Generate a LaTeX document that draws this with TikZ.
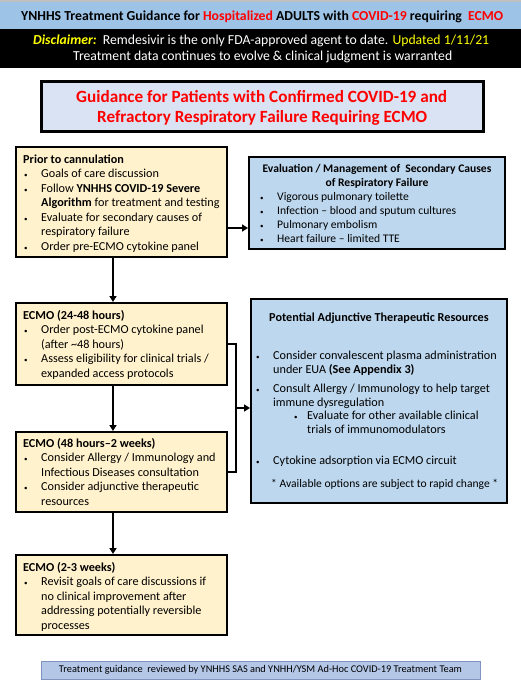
\documentclass[tikz,border=0pt]{standalone}
\usepackage{graphicx}
\usepackage{fontspec}
\setmainfont{Carlito}
\usetikzlibrary{arrows.meta}
\definecolor{bannerblue}{HTML}{9DC3E6}
\definecolor{titlefill}{HTML}{DAE3F3}
\definecolor{yelfill}{HTML}{FFF2CC}
\definecolor{bluefill}{HTML}{BDD7EE}
\definecolor{footfill}{HTML}{B4C7E7}
\definecolor{footedge}{HTML}{7F95BF}
\definecolor{redtxt}{HTML}{FF0000}
\definecolor{yeltxt}{HTML}{FFFF00}
\newcommand{\Bu}{\makebox[18pt][l]{\hspace{1pt}{\scriptsize\textbullet}}}
\newcommand{\Cn}{\hspace*{18pt}}
\newcommand{\ybody}{\fontsize{12.2}{14.5}\selectfont}
\newcommand{\ebody}{\fontsize{11.6}{14}\selectfont}
\newcommand{\abody}{\fontsize{12.2}{14}\selectfont}
\tikzset{
  yelbox/.style={draw=black, line width=2pt, fill=yelfill},
  bluebox/.style={draw=black, line width=2pt, fill=bluefill},
  txt/.style={anchor=base west, align=left, inner sep=0pt},
  ctxt/.style={anchor=base, align=center, inner sep=0pt},
  arr/.style={line width=2pt, -{Triangle[length=6pt,width=7pt]}},
  ln/.style={line width=2pt}
}
\begin{document}
\begin{tikzpicture}[x=1pt,y=-1pt]
\useasboundingbox (0,0) rectangle (521,680);
\fill[white] (0,0) rectangle (521,680);
% banner
\fill[bannerblue] (0,0) rectangle (521,29);
\fill[black!25] (0,0) rectangle (521,1.5);
\fill[black] (0,29) rectangle (521,68);
\node[anchor=base west, inner sep=0pt] (bannertitle) at (21,20.5)
  {\resizebox{482pt}{!}{\bfseries YNHHS Treatment Guidance for \textcolor{redtxt}{Hospitalized} ADULTS with \textcolor{redtxt}{COVID-19} requiring\ \ \textcolor{redtxt}{ECMO}}};
\node[anchor=base west, inner sep=0pt, text=white] (disc1) at (33,44.5)
  {\resizebox{456pt}{!}{\textcolor{yeltxt}{\bfseries\itshape Disclaimer:}\ \ Remdesivir is the only FDA-approved agent to date. \textcolor{yeltxt}{Updated 1/11/21}}};
\node[anchor=base west, inner sep=0pt, text=white] (disc2) at (73,60.5)
  {\resizebox{379pt}{!}{Treatment data continues to evolve \& clinical judgment is warranted}};
% title box
\draw[line width=3pt, fill=titlefill] (41,81) rectangle (483,131);
\node[anchor=base west, inner sep=0pt, text=redtxt] (maintitle1) at (76,102)
  {\resizebox{371pt}{!}{\bfseries Guidance for Patients with Confirmed COVID-19 and}};
\node[anchor=base west, inner sep=0pt, text=redtxt] (maintitle2) at (97,122)
  {\resizebox{330pt}{!}{\bfseries Refractory Respiratory Failure Requiring ECMO}};
% box 1
\node[yelbox, minimum width=211pt, minimum height=110pt, inner sep=0pt] (b1) at (121.5,202) {};
\node[txt, font=\ybody] (b1t) at (23,250) {\textbf{Prior to cannulation}\\
\Bu Goals of care discussion\\
\Bu Follow \textbf{YNHHS COVID-19 Severe}\\
\Cn\textbf{Algorithm} for treatment and testing\\
\Bu Evaluate for secondary causes of\\
\Cn respiratory failure\\
\Bu Order pre-ECMO cytokine panel};
% eval box
\node[bluebox, minimum width=256pt, minimum height=92pt, inner sep=0pt] (ev) at (377,203) {};
\node[ctxt, font=\ebody\bfseries] (evt) at (377,186) {Evaluation / Management of\ \ Secondary Causes\\of Respiratory Failure};
\node[txt, font=\ebody] (evb) at (259,242) {\Bu Vigorous pulmonary toilette\\
\Bu Infection -- blood and sputum cultures\\
\Bu Pulmonary embolism\\
\Bu Heart failure -- limited TTE};
% box 2
\node[yelbox, minimum width=211pt, minimum height=82pt, inner sep=0pt] (b2) at (121.5,344) {};
\node[txt, font=\ybody] (b2t) at (23,377) {\textbf{ECMO (24-48 hours)}\\
\Bu Order post-ECMO cytokine panel\\
\Cn (after \textasciitilde 48 hours)\\
\Bu Assess eligibility for clinical trials /\\
\Cn expanded access protocols};
% adjunct box
\node[bluebox, minimum width=256pt, minimum height=204pt, inner sep=0pt] (adj) at (379,401) {};
\node[ctxt, font=\abody\bfseries] (adjt) at (379,321) {Potential Adjunctive Therapeutic Resources};
\node[txt, font=\abody] (adjb1) at (255,373.5) {\Bu Consider convalescent plasma administration\\
\Cn under EUA \textbf{(See Appendix 3)}};
\node[txt, font=\abody] (adjb2) at (255,406.5) {\Bu Consult Allergy / Immunology to help target\\
\Cn immune dysregulation};
\node[txt, font=\abody] (adjb3) at (294,433.5) {\makebox[13pt][l]{{\scriptsize\textbullet}}Evaluate for other available clinical\\
\hspace*{13pt}trials of immunomodulators};
\node[txt, font=\abody] (adjb4) at (255,464) {\Bu Cytokine adsorption via ECMO circuit};
\node[anchor=base west, inner sep=0pt] (adjn) at (271,487) {\resizebox{227pt}{!}{* Available options are subject to rapid change *}};
% box 3
\node[yelbox, minimum width=211pt, minimum height=80pt, inner sep=0pt] (b3) at (121.5,472) {};
\node[txt, font=\ybody] (b3t) at (23,505) {\textbf{ECMO (48 hours--2 weeks)}\\
\Bu Consider Allergy / Immunology and\\
\Cn Infectious Diseases consultation\\
\Bu Consider adjunctive therapeutic\\
\Cn resources};
% box 4
\node[yelbox, minimum width=211pt, minimum height=80pt, inner sep=0pt] (b4) at (121.5,595) {};
\node[txt, font=\ybody] (b4t) at (23,629) {\textbf{ECMO (2-3 weeks)}\\
\Bu Revisit goals of care discussions if\\
\Cn no clinical improvement after\\
\Cn addressing potentially reversible\\
\Cn processes};
% footer
\node[draw=footedge, line width=1pt, fill=footfill, minimum width=439pt, minimum height=18pt, inner sep=0pt] (foot) at (260.5,670)
  {\resizebox{403pt}{!}{Treatment guidance\ \ reviewed by YNHHS SAS and YNHH/YSM Ad-Hoc COVID-19 Treatment Team}};
% connectors
\coordinate (c1) at (227,228);
\draw[arr] (b1.east |- c1) -- (ev.west |- c1);
\draw[arr] (b1.south -| 113,0) -- (b2.north -| 113,0);
\draw[arr] (b2.south -| 113,0) -- (b3.north -| 113,0);
\draw[arr] (b3.south -| 113,0) -- (b4.north -| 113,0);
\coordinate (j) at (236,408);
\draw[ln] (b2.east) -| (j);
\draw[ln] (b3.east) -| (j);
\draw[arr] (j) -- (adj.west |- j);
\end{tikzpicture}
\end{document}
